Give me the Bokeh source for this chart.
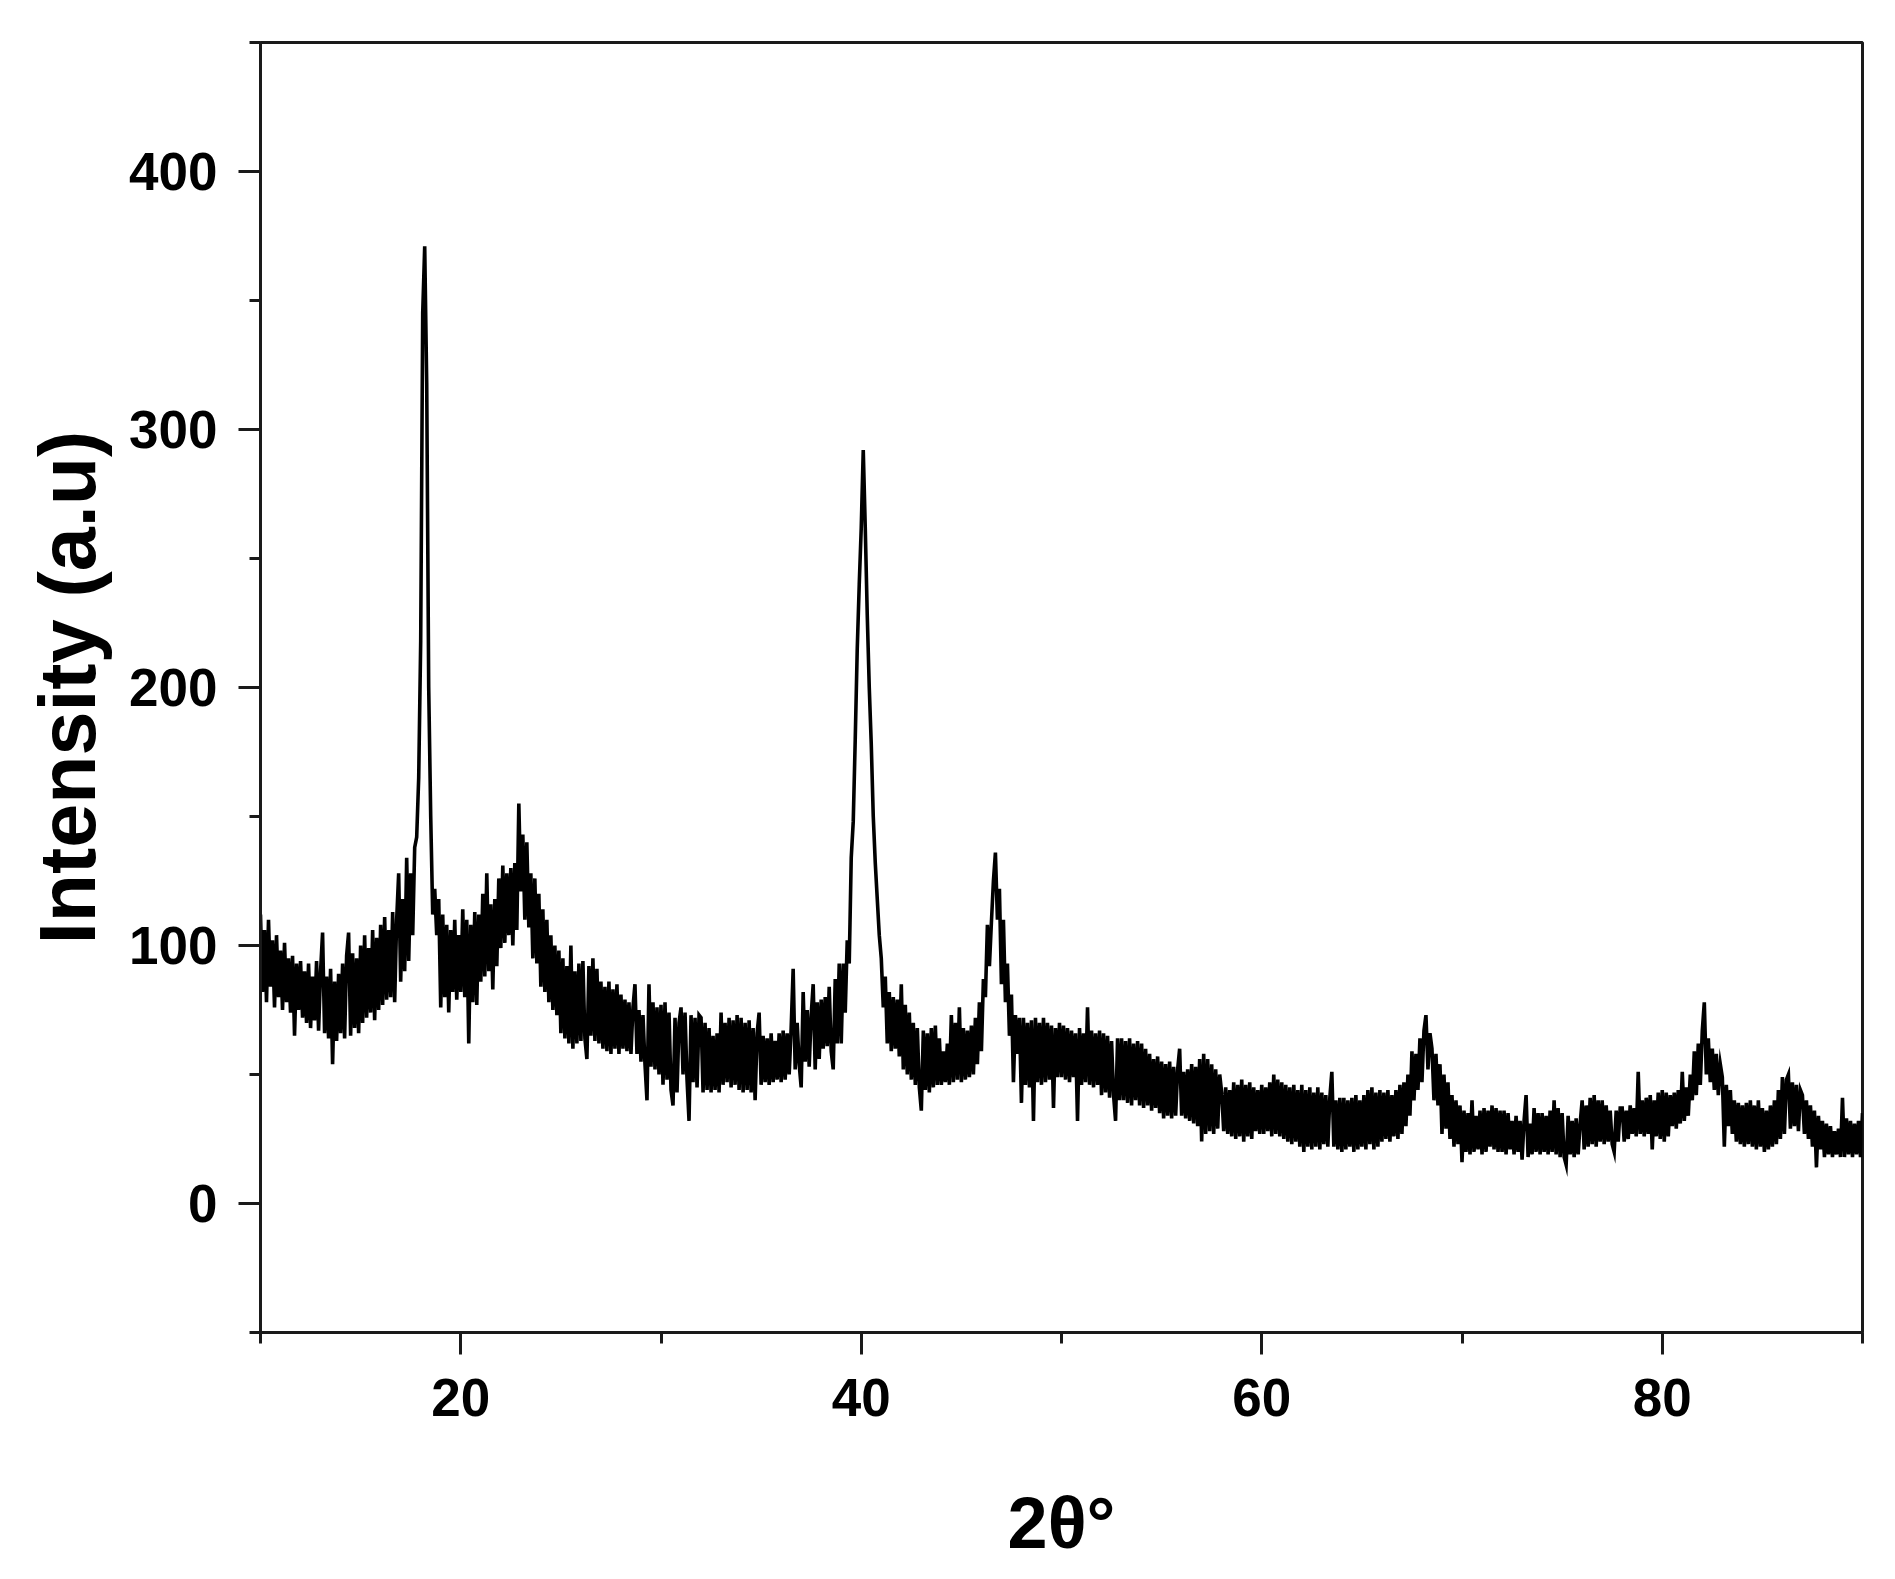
import numpy as np
from bokeh.plotting import figure
from bokeh.models import Range1d, SingleIntervalTicker, ColumnDataSource
from bokeh.embed import file_html
from bokeh.resources import INLINE

# ---- data (XRD scan) ----
scan_start = 10.0      # 2theta of first reading (deg)
scan_step = 0.1        # 2theta step (deg)
intensity = [
    112, 82, 106, 78, 110, 84, 102, 76, 104, 80,    # 10
    98, 75, 101, 78, 95, 74, 96, 65, 93, 75,        # 11
    94, 72, 90, 70, 93, 68, 88, 71, 94, 67,         # 12
    90, 105, 66, 88, 64, 91, 54, 86, 63, 89,        # 13
    66, 93, 64, 96, 105, 65, 97, 68, 95, 66,        # 14
    100, 70, 104, 72, 99, 74, 106, 71, 103, 75,     # 15
    108, 77, 111, 79, 106, 80, 113, 78, 110, 128,   # 16
    86, 118, 90, 134, 94, 128, 104, 138, 142, 165,  # 17
    218, 345, 371, 318, 200, 150, 112, 122, 104, 118,  # 18
    76, 112, 80, 108, 74, 106, 82, 110, 79, 104,    # 19
    82, 114, 80, 110, 62, 108, 78, 113, 77, 112,    # 20
    86, 120, 88, 128, 90, 116, 83, 118, 92, 126,    # 21
    99, 131, 101, 128, 104, 130, 100, 132, 106, 155,  # 22
    121, 143, 110, 140, 107, 128, 95, 126, 93, 120,   # 23
    84, 114, 82, 110, 78, 104, 75, 100, 73, 98,     # 24
    66, 95, 64, 92, 62, 100, 60, 90, 62, 93,        # 25
    63, 94, 64, 56, 92, 65, 95, 63, 91, 62,         # 26
    86, 60, 84, 59, 86, 58, 83, 60, 85, 58,         # 27
    81, 60, 79, 59, 78, 58, 76, 85, 58, 75,         # 28
    55, 73, 54, 40, 85, 53, 78, 52, 76, 50,         # 29
    77, 46, 78, 48, 74, 44, 38, 72, 43, 70,         # 30
    76, 50, 74, 48, 32, 73, 47, 72, 45, 73,         # 31
    72, 43, 70, 44, 68, 43, 65, 44, 66, 43,         # 32
    74, 46, 70, 47, 72, 45, 71, 46, 73, 44,         # 33
    72, 43, 70, 44, 71, 43, 68, 40, 66, 74,         # 34
    46, 65, 47, 64, 46, 66, 47, 63, 48, 66,         # 35
    47, 67, 48, 66, 50, 68, 91, 52, 70, 54,         # 36
    45, 82, 55, 75, 53, 73, 85, 52, 78, 56,         # 37
    79, 60, 80, 61, 84, 59, 52, 87, 62, 93,         # 38
    62, 93, 74, 102, 93, 134, 148, 180, 215, 240,   # 39
    262, 292, 262, 228, 200, 178, 150, 132, 118, 104,  # 40
    95, 76, 88, 62, 82, 59, 80, 60, 79, 57,         # 41
    85, 52, 77, 50, 74, 48, 70, 46, 68, 45,         # 42
    36, 67, 44, 66, 43, 68, 45, 69, 46, 64,         # 43
    46, 59, 47, 62, 46, 73, 47, 70, 48, 76,         # 44
    47, 68, 48, 67, 49, 69, 50, 72, 54, 78,         # 45
    59, 87, 80, 108, 92, 109, 125, 136, 110, 122,   # 46
    85, 110, 78, 93, 65, 81, 47, 73, 58, 72,        # 47
    39, 72, 46, 70, 45, 71, 32, 72, 47, 70,         # 48
    46, 72, 47, 70, 48, 69, 37, 68, 49, 70,         # 49
    49, 69, 48, 68, 47, 67, 49, 66, 32, 68,         # 50
    46, 66, 47, 76, 46, 67, 45, 66, 46, 67,         # 51
    42, 66, 43, 65, 41, 63, 42, 32, 64, 40,         # 52
    64, 40, 63, 39, 64, 38, 62, 40, 63, 38,         # 53
    62, 37, 60, 38, 58, 36, 56, 37, 57, 35,         # 54
    55, 33, 54, 34, 55, 33, 53, 34, 52, 60,         # 55
    34, 51, 33, 52, 32, 54, 31, 53, 30, 56,         # 56
    24, 58, 27, 56, 28, 54, 27, 52, 29, 50,         # 57
    43, 28, 45, 27, 44, 26, 47, 25, 46, 26,         # 58
    48, 24, 46, 26, 47, 25, 45, 28, 44, 27,         # 59
    46, 27, 45, 28, 47, 26, 50, 27, 48, 26,         # 60
    47, 25, 46, 24, 45, 23, 46, 24, 44, 22,         # 61
    46, 20, 44, 22, 45, 21, 43, 22, 45, 21,         # 62
    43, 23, 42, 22, 41, 51, 22, 40, 21, 41,         # 63
    20, 41, 21, 40, 22, 41, 20, 42, 21, 40,         # 64
    22, 42, 21, 44, 23, 45, 21, 43, 22, 44,         # 65
    24, 43, 25, 44, 24, 42, 26, 44, 25, 46,         # 66
    27, 47, 30, 50, 34, 59, 40, 58, 44, 64,         # 67
    47, 67, 73, 52, 66, 60, 40, 58, 38, 54,         # 68
    27, 50, 29, 47, 25, 42, 22, 40, 23, 38,         # 69
    16, 36, 20, 35, 19, 40, 20, 34, 21, 36,         # 70
    19, 37, 20, 36, 22, 38, 21, 37, 20, 36,         # 71
    20, 36, 19, 35, 21, 32, 19, 34, 20, 32,         # 72
    17, 32, 42, 18, 31, 19, 37, 20, 35, 19,         # 73
    35, 20, 34, 19, 36, 20, 40, 19, 37, 18,         # 74
    35, 18, 15, 34, 19, 32, 18, 33, 19, 31,         # 75
    40, 21, 38, 22, 41, 23, 42, 22, 40, 24,         # 76
    40, 23, 38, 24, 36, 23, 20, 36, 24, 37,         # 77
    37, 24, 36, 25, 38, 27, 37, 26, 51, 27,         # 78
    40, 26, 41, 27, 42, 21, 40, 26, 43, 25,         # 79
    44, 24, 43, 26, 42, 30, 43, 29, 44, 31,         # 80
    51, 32, 45, 34, 50, 40, 59, 42, 62, 46,         # 81
    67, 78, 50, 64, 47, 60, 44, 58, 42, 54,         # 82
    49, 22, 46, 30, 44, 27, 40, 24, 39, 23,         # 83
    38, 22, 39, 23, 40, 22, 38, 21, 40, 22,         # 84
    37, 20, 36, 21, 38, 22, 40, 23, 44, 25,         # 85
    49, 27, 48, 50, 29, 47, 30, 46, 28, 44,         # 86
    42, 27, 40, 25, 38, 22, 36, 14, 34, 21,         # 87
    32, 18, 31, 19, 30, 18, 28, 19, 29, 18,         # 88
    41, 18, 33, 19, 32, 18, 31, 19, 32, 18,         # 89
    35,                                             # 90
]

x_axis_label = "2θ°"
y_axis_label = "Intensity (a.u)"
x_limits = (10, 90)
y_limits = (-50, 450)
x_tick_interval = 20
y_tick_interval = 100

two_theta = np.round(scan_start + scan_step * np.arange(len(intensity)), 2)
source = ColumnDataSource(data=dict(x=two_theta, y=intensity))

AX = "#1a1a1a"
FONT = "Liberation Sans"

p = figure(
    frame_width=1602, frame_height=1290,
    x_range=Range1d(*x_limits), y_range=Range1d(*y_limits),
    output_backend="svg", toolbar_location=None,
    min_border_left=260, min_border_right=25,
    min_border_top=42, min_border_bottom=239,
    background_fill_color="white", border_fill_color="white",
)
p.grid.visible = False
p.outline_line_color = AX
p.outline_line_width = 3

p.line("x", "y", source=source, line_color="black", line_width=3.6,
       line_join="miter")

p.xaxis.ticker = SingleIntervalTicker(interval=x_tick_interval, num_minor_ticks=2)
p.yaxis.ticker = SingleIntervalTicker(interval=y_tick_interval, num_minor_ticks=2)

for ax in (p.xaxis[0], p.yaxis[0]):
    ax.axis_line_color = AX
    ax.axis_line_width = 3
    ax.major_tick_line_color = AX
    ax.minor_tick_line_color = AX
    ax.major_tick_line_width = 3
    ax.minor_tick_line_width = 3
    ax.major_tick_in = 0
    ax.major_tick_out = 22
    ax.minor_tick_in = 0
    ax.minor_tick_out = 11
    ax.major_label_text_font = FONT
    ax.major_label_text_font_style = "bold"
    ax.major_label_text_font_size = "53px"
    ax.major_label_text_color = "black"
    ax.axis_label_text_font = FONT
    ax.axis_label_text_font_style = "bold"
    ax.axis_label_text_color = "black"

p.xaxis.axis_label = x_axis_label
p.yaxis.axis_label = y_axis_label
p.xaxis.axis_label_text_font_size = "72px"
p.yaxis.axis_label_text_font_size = "79px"
p.xaxis.major_label_standoff = 24
p.yaxis.major_label_standoff = 21
p.xaxis.axis_label_standoff = 64
p.yaxis.axis_label_standoff = 14

open("out.html", "w").write(file_html(p, INLINE))
